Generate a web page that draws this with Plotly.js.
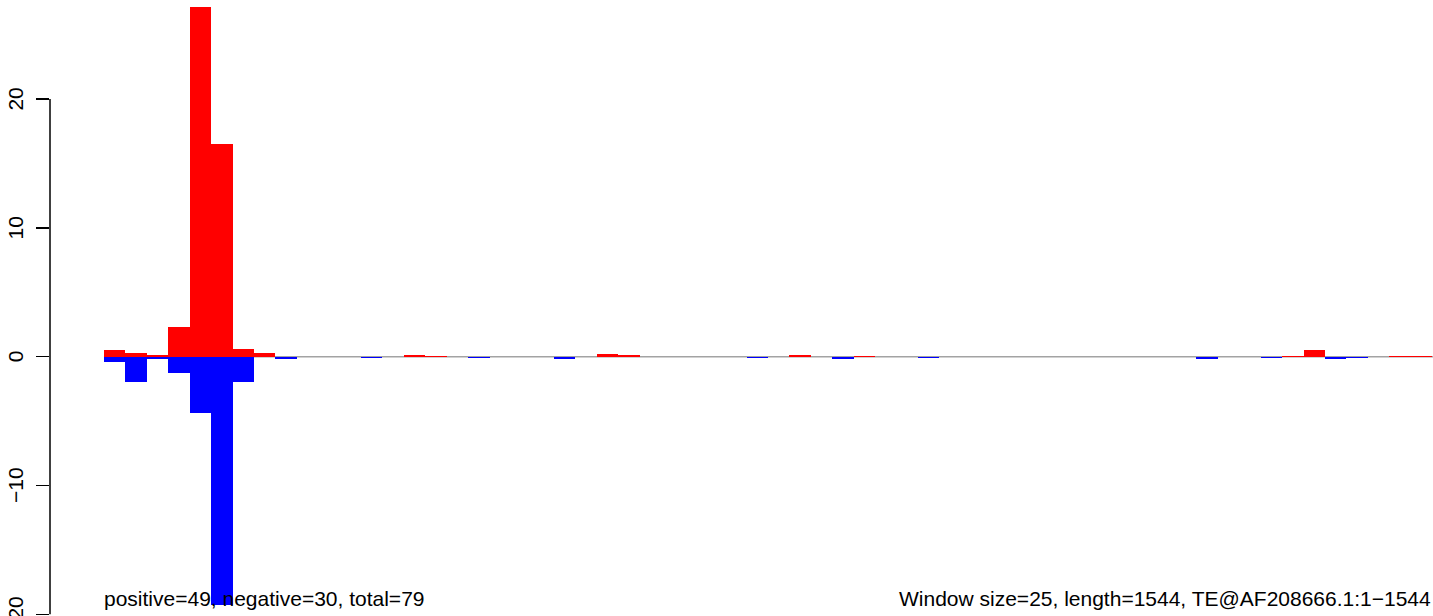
<!DOCTYPE html>
<html>
<head>
<meta charset="utf-8">
<script src="https://cdn.plot.ly/plotly-3.0.1.min.js"></script>
<style>
  html, body { margin: 0; padding: 0; background: #ffffff; }
  #chart { width: 1433px; height: 616px; }
</style>
</head>
<body>
<div id="chart"></div>
<script>
// ---- data ----
const windowSize = 25;
const seqLength = 1544;
// positive strand signal per 25-bp window (62 windows)
const positiveValues = [
  0.50, 0.29, 0.16, 2.30, 27.15, 16.50, 0.60, 0.29, 0, 0,
  0, 0, 0, 0, 0.13, 0.08, 0, 0, 0, 0,
  0, 0, 0, 0.21, 0.12, 0, 0, 0, 0, 0,
  0, 0, 0.15, 0, 0, 0.08, 0, 0, 0, 0,
  0, 0, 0, 0, 0, 0, 0, 0, 0, 0,
  0, 0, 0, 0, 0, 0.08, 0.52, 0, 0, 0,
  0.08, 0.08
];
// negative strand signal per window
const negativeValues = [
  -0.45, -2.00, -0.20, -1.30, -4.35, -19.30, -2.00, 0, -0.17, 0,
  0, 0, -0.08, 0, 0, 0, 0, -0.07, 0, 0,
  0, -0.17, 0, -0.05, 0, 0, 0, 0, 0, 0,
  -0.07, 0, 0, 0, -0.17, 0, 0, 0, -0.07, 0,
  0, 0, 0, 0, 0, 0, 0, 0, 0, 0,
  0, -0.17, 0, 0, -0.07, 0, -0.05, -0.17, -0.07, 0,
  -0.05, -0.05
];
const yTickValues = [-20, -10, 0, 10, 20];
const yTickLabels = ["\u221220", "\u221210", "0", "10", "20"];
const leftNote = "positive=49, negative=30, total=79";
const rightNote = "Window size=25, length=1544, TE@AF208666.1:1\u22121544";

// ---- build ----
const xCenters = positiveValues.map((_, i) => i * windowSize + windowSize / 2);
const nWin = positiveValues.length;
const FONT = "Liberation Sans, Arial, Helvetica, sans-serif";

const traces = [
  {
    type: "bar",
    x: xCenters,
    y: positiveValues,
    width: windowSize,
    marker: { color: "#FF0000", line: { width: 0 } },
    hoverinfo: "skip"
  },
  {
    type: "bar",
    x: xCenters,
    y: negativeValues,
    width: windowSize,
    marker: { color: "#0000FF", line: { width: 0 } },
    hoverinfo: "skip"
  }
];

// rotated tick labels (R style: parallel to the axis)
const tickLabelAnnotations = yTickValues.map((v, i) => ({
  text: yTickLabels[i],
  xref: "paper", yref: "y",
  x: 0, y: v,
  xanchor: "center", yanchor: "middle",
  xshift: -34.5,
  textangle: -90,
  showarrow: false,
  font: { family: FONT, size: 21, color: "#000000" }
}));

const layout = {
  width: 1433,
  height: 616,
  margin: { l: 50, r: 0, t: 0, b: 0, pad: 0 },
  paper_bgcolor: "#ffffff",
  plot_bgcolor: "#ffffff",
  showlegend: false,
  barmode: "overlay",
  bargap: 0,
  font: { family: FONT, size: 21, color: "#000000" },
  xaxis: {
    range: [-63.0, 1551.1],
    visible: false,
    showgrid: false,
    zeroline: false,
    fixedrange: true
  },
  yaxis: {
    range: [-20.13, 27.69],
    showgrid: false,
    zeroline: false,
    showline: false,
    ticks: "outside",
    ticklen: 13,
    tickwidth: 1.5,
    tickcolor: "#000000",
    tickmode: "array",
    tickvals: yTickValues,
    ticktext: yTickLabels,
    showticklabels: false,
    fixedrange: true
  },
  shapes: [
    {
      type: "line", layer: "below",
      xref: "x", yref: "y",
      x0: 0, x1: nWin * windowSize + 100, y0: 0, y1: 0,
      line: { color: "#A3A3A3", width: 1.5 }
    },
    {
      type: "line", layer: "above",
      xref: "paper", yref: "y",
      x0: 0, x1: 0, y0: yTickValues[0], y1: yTickValues[yTickValues.length - 1],
      line: { color: "#000000", width: 1.5 }
    }
  ],
  annotations: tickLabelAnnotations.concat([
    {
      text: leftNote,
      xref: "x", yref: "paper",
      x: 0, y: 1 - 598 / 616,
      xanchor: "left", yanchor: "middle",
      showarrow: false,
      xshift: -2,
      font: { family: FONT, size: 21, color: "#000000" }
    },
    {
      text: rightNote,
      xref: "paper", yref: "paper",
      x: 1, y: 1 - 598 / 616,
      xanchor: "right", yanchor: "middle",
      showarrow: false,
      xshift: 0,
      font: { family: FONT, size: 21, color: "#000000" }
    }
  ])
};

Plotly.newPlot("chart", traces, layout, { staticPlot: true, displayModeBar: false });
</script>
</body>
</html>
